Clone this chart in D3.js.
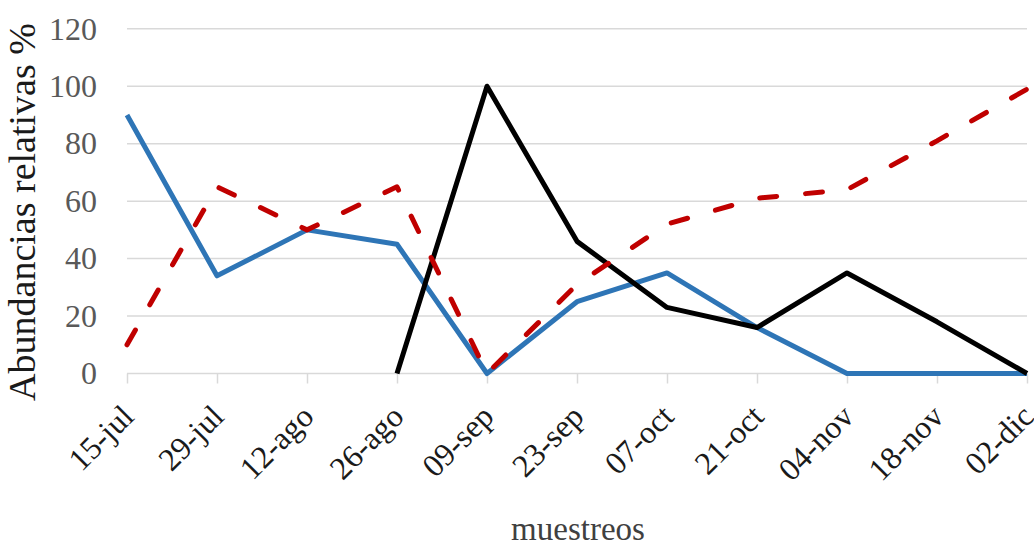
<!DOCTYPE html>
<html><head><meta charset="utf-8">
<script src="https://cdn.jsdelivr.net/npm/d3@7"></script>
<style>body{margin:0;background:#fff}svg{display:block}</style>
</head><body>
<svg id="c" width="1034" height="544"></svg>
<script>
const categories = ["15-jul","29-jul","12-ago","26-ago","09-sep","23-sep","07-oct","21-oct","04-nov","18-nov","02-dic"];
const blueValues  = [90, 34, 50, 45, 0, 25, 35, 16, 0, 0, 0];
const redValues   = [10, 65, 50, 65, 0, 31, 52, 61, 64, 81, 99];
const blackValues = [null, null, null, 0, 100, 46, 23, 16, 35, 18, 0];
const yTicks = [0, 20, 40, 60, 80, 100, 120];

const FONT = "Liberation Serif";
const svg = d3.select("#c");
const x = d3.scalePoint().domain(categories).range([127, 1027]);
const y = d3.scaleLinear().domain([0, 120]).range([373.5, 28.8]);

// gridlines
svg.append("g").selectAll("line").data(yTicks.filter(d => d > 0)).join("line")
  .attr("x1", 127).attr("x2", 1027)
  .attr("y1", d => y(d)).attr("y2", d => y(d))
  .attr("stroke", "#d9d9d9").attr("stroke-width", 1.5);

// y axis labels
const yAxis = svg.append("g").attr("transform", "translate(127,0)")
  .attr("font-family", FONT)
  .call(d3.axisLeft(y).tickValues(yTicks).tickSize(0).tickPadding(30));
yAxis.attr("font-family", FONT);
yAxis.select(".domain").remove();
yAxis.selectAll("text").attr("font-family", FONT).attr("font-size", 32).attr("fill", "#595959");

// x axis
const xAxis = svg.append("g").attr("transform", `translate(0,${y(0)})`)
  .call(d3.axisBottom(x).tickSize(10).tickPadding(6));
xAxis.attr("font-family", FONT);
xAxis.select(".domain").attr("d", "M127,0H1027").attr("stroke", "#d9d9d9").attr("stroke-width", 1.5);
xAxis.selectAll(".tick line").attr("stroke", "#d9d9d9").attr("stroke-width", 1.5);
xAxis.selectAll("text")
  .attr("font-family", FONT).attr("font-size", 32).attr("fill", "#1a1a1a")
  .attr("text-anchor", "end").attr("dy", null).attr("y", 0)
  .attr("transform", "translate(8,45) rotate(-45)");

const line = d3.line().defined(d => d.v !== null).x(d => x(d.c)).y(d => y(d.v));
const mk = vals => categories.map((c, i) => ({c, v: vals[i]}));

svg.append("path").datum(mk(blueValues)).attr("d", line)
  .attr("fill", "none").attr("stroke", "#2e75b6").attr("stroke-width", 5).attr("stroke-linejoin", "round");
svg.append("path").datum(mk(blackValues)).attr("d", line)
  .attr("fill", "none").attr("stroke", "#000").attr("stroke-width", 5).attr("stroke-linejoin", "round");
svg.append("path").datum(mk(redValues)).attr("d", line)
  .attr("fill", "none").attr("stroke", "#c00000").attr("stroke-width", 5)
  .attr("stroke-dasharray", "17,29").attr("stroke-linecap", "round").attr("stroke-linejoin", "round");

// titles
svg.append("text").attr("transform", "translate(35,212) rotate(-90)")
  .attr("text-anchor", "middle").attr("font-family", FONT).attr("font-size", 38)
  .attr("fill", "#1a1a1a").text("Abundancias relativas %");
svg.append("text").attr("x", 578).attr("y", 540)
  .attr("text-anchor", "middle").attr("font-family", FONT).attr("font-size", 33)
  .attr("fill", "#404040").text("muestreos");
</script>
</body></html>
